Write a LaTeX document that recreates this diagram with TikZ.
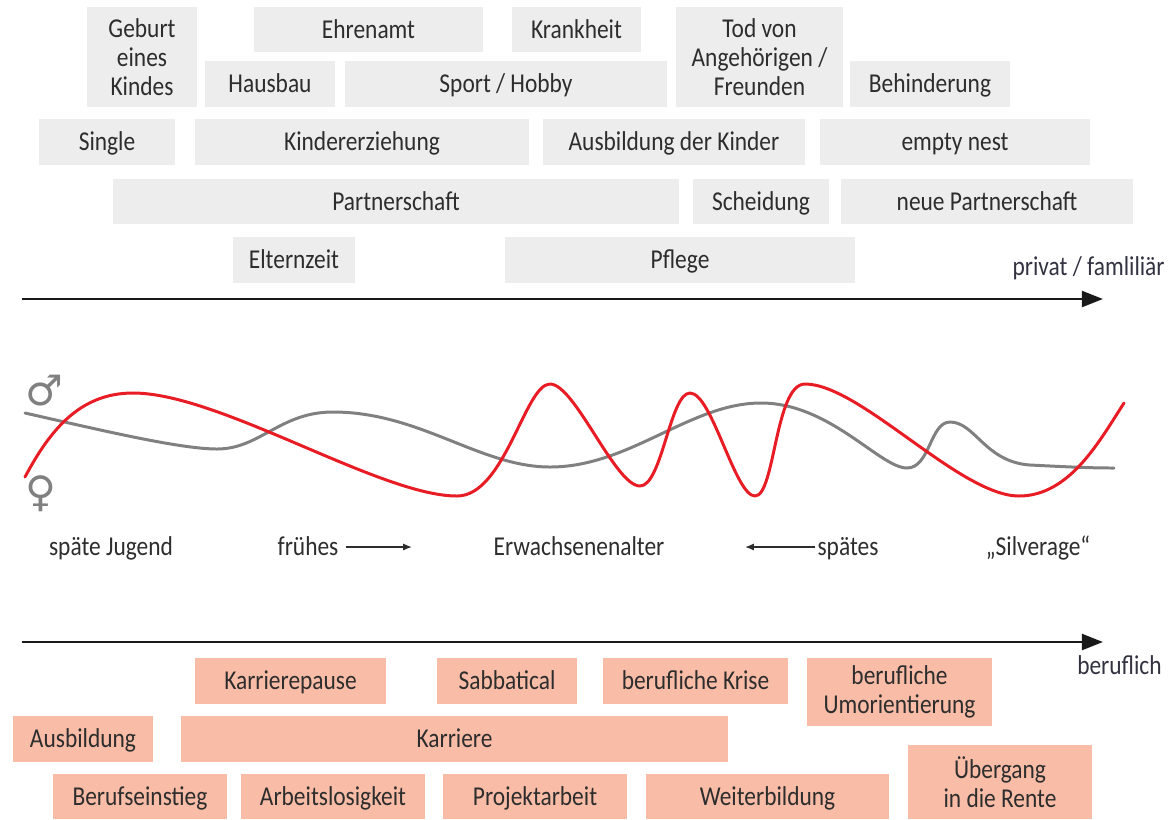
\documentclass[tikz,border=0pt]{standalone}
\usepackage{fontspec}
\setmainfont{Carlito}[FakeStretch=0.86]
\newfontfamily\symfont{DejaVu Sans}
\usetikzlibrary{positioning, arrows.meta}
\definecolor{privgray}{RGB}{237,237,237}
\definecolor{berufrose}{RGB}{249,189,167}
\definecolor{textdark}{RGB}{45,45,45}
\definecolor{axislabel}{RGB}{50,50,65}
\definecolor{curvered}{RGB}{232,28,36}
\definecolor{curvegray}{RGB}{128,128,128}

\begin{document}
\begin{tikzpicture}[x=0.02cm, y=-0.02cm,
      privbox/.style={fill=privgray, text=textdark, align=center, inner sep=0pt, minimum height=0.92cm, text height=10pt, text depth=0pt, font=\fontsize{15.5}{16.5}\selectfont},
      multiline/.style={text height={}, text depth={}},
      berufbox/.style={privbox, fill=berufrose},
      phaselabel/.style={text=textdark, inner sep=0pt, text height=10pt, text depth=0pt, font=\fontsize{15.5}{16.5}\selectfont},
      axislabelstyle/.style={text=axislabel, inner sep=0pt, font=\fontsize{15.5}{16.5}\selectfont},
      axisarrow/.style={-{Triangle[length=12pt,width=9pt]}, line width=1.6pt, black!90},
      phasearrow/.style={-{Latex[length=5pt,width=4pt]}, line width=0.8pt, textdark},
      lifeline/.style={line width=1.7pt, line join=round, line cap=round},
      gendersign/.style={text=curvegray, inner sep=0pt, font=\symfont\fontsize{24}{24}\selectfont}
    ]
      \useasboundingbox (0,0) rectangle (1168,819);

      \node [privbox, multiline, minimum width=2.2cm, minimum height=2cm] (geburt) at (142,57) {Geburt\\eines\\Kindes};
      \node [privbox, minimum width=4.58cm, minimum height=0.9cm] (ehrenamt) at (368.5,29.5) {Ehrenamt};
      \node [privbox, minimum width=2.58cm, minimum height=0.9cm] (krankheit) at (576.5,29.5) {Krankheit};
      \node [privbox, multiline, minimum width=3.34cm, minimum height=2cm] (tod) at (759.5,57) {Tod von\\Angehörigen /\\Freunden};
      \node [privbox, minimum width=2.6cm] (hausbau) at (270,84) {Hausbau};
      \node [privbox, minimum width=6.44cm] (sport) at (506,84) {Sport / Hobby};
      \node [privbox, minimum width=3.2cm] (behinderung) at (930,84) {Behinderung};
      \node [privbox, minimum width=2.72cm] (single) at (107,142) {Single};
      \node [privbox, minimum width=6.68cm] (erziehung) at (362,142) {Kindererziehung};
      \node [privbox, minimum width=5.24cm] (ausbkinder) at (674,142) {Ausbildung der Kinder};
      \node [privbox, minimum width=5.4cm] (emptynest) at (955,142) {empty nest};
      \node [privbox, minimum width=11.32cm, minimum height=0.9cm] (partnerschaft) at (396,201.5) {Partnerschaft};
      \node [privbox, minimum width=2.72cm, minimum height=0.9cm] (scheidung) at (761,201.5) {Scheidung};
      \node [privbox, minimum width=5.84cm, minimum height=0.9cm] (neuepartner) at (987,201.5) {neue Partnerschaft};
      \node [privbox, minimum width=2.44cm] (elternzeit) at (294,260) {Elternzeit};
      \node [privbox, minimum width=7cm] (pflege) at (680,260) {Pflege};

      \node [axislabelstyle, anchor=east] (privat) at (1165,268) {privat / famliliär};
      \coordinate (privStart) at (22,299);
      \coordinate (privEnd) at (1103,299);
      \draw [axisarrow] (privStart) -- (privEnd);

      \node [gendersign] (mann) at (44,391) {♂};
      \node [gendersign] (frau) at (41,494) {♀};

      \draw [lifeline, curvegray] (25,413) .. controls (100,430) and (180,449) .. (217,449)
        .. controls (260,449) and (280,412) .. (333,412)
        .. controls (420,412) and (480,467) .. (550,467)
        .. controls (630,467) and (690,403) .. (761,403)
        .. controls (830,403) and (880,468) .. (907,468)
        .. controls (930,468) and (930,422) .. (950,422)
        .. controls (975,422) and (985,462) .. (1030,465)
        .. controls (1070,467) and (1090,468) .. (1114,468);
      \draw [lifeline, curvered] (25,477) .. controls (50,430) and (80,393) .. (133,393)
        .. controls (220,393) and (380,496) .. (457,496)
        .. controls (505,496) and (525,384) .. (550,384)
        .. controls (575,384) and (615,486) .. (640,486)
        .. controls (662,486) and (670,393) .. (690,393)
        .. controls (712,393) and (735,496) .. (755,496)
        .. controls (775,496) and (775,384) .. (805,384)
        .. controls (860,384) and (960,496) .. (1019,496)
        .. controls (1070,496) and (1100,440) .. (1124,403);

      \node [phaselabel] (jugend) at (111,547) {späte Jugend};
      \node [phaselabel] (fruehes) at (308,547) {frühes};
      \coordinate (fruehesEnd) at (412,547);
      \draw [phasearrow] (fruehes.east) ++(7,0) -- (fruehesEnd);
      \node [phaselabel] (erwachsen) at (579,547) {Erwachsenenalter};
      \node [phaselabel] (spaetes) at (848,547) {spätes};
      \coordinate (spaetesEnd) at (745,547);
      \draw [phasearrow] (spaetes.west) ++(-2,0) -- (spaetesEnd);
      \node [phaselabel] (silverage) at (1038,547) {„Silverage“};

      \coordinate (berufStart) at (22,642);
      \coordinate (berufEnd) at (1103,642);
      \draw [axisarrow] (berufStart) -- (berufEnd);
      \node [axislabelstyle, anchor=east] (beruflich) at (1162,665) {beruflich};

      \node [berufbox, minimum width=3.82cm] (karrierepause) at (290.5,681) {Karrierepause};
      \node [berufbox, minimum width=2.8cm] (sabbatical) at (507,681) {Sabbatical};
      \node [berufbox, minimum width=3.7cm] (krise) at (695.5,681) {berufliche Krise};
      \node [berufbox, multiline, minimum width=3.7cm, minimum height=1.36cm] (umorientierung) at (899.5,692) {berufliche\\Umorientierung};
      \node [berufbox, minimum width=2.8cm] (ausbildung) at (83,739) {Ausbildung};
      \node [berufbox, minimum width=10.94cm] (karriere) at (454.5,739) {Karriere};
      \node [berufbox, minimum width=3.48cm, minimum height=0.9cm] (einstieg) at (140,796.5) {Berufseinstieg};
      \node [berufbox, minimum width=3.68cm, minimum height=0.9cm] (arbeitslos) at (333,796.5) {Arbeitslosigkeit};
      \node [berufbox, minimum width=3.68cm, minimum height=0.9cm] (projekt) at (535,796.5) {Projektarbeit};
      \node [berufbox, minimum width=4.86cm, minimum height=0.9cm] (weiterbildung) at (767.5,796.5) {Weiterbildung};
      \node [berufbox, multiline, minimum width=3.68cm, minimum height=1.48cm] (rente) at (1000,782) {Übergang\\in die Rente};
    \end{tikzpicture}
\end{document}
